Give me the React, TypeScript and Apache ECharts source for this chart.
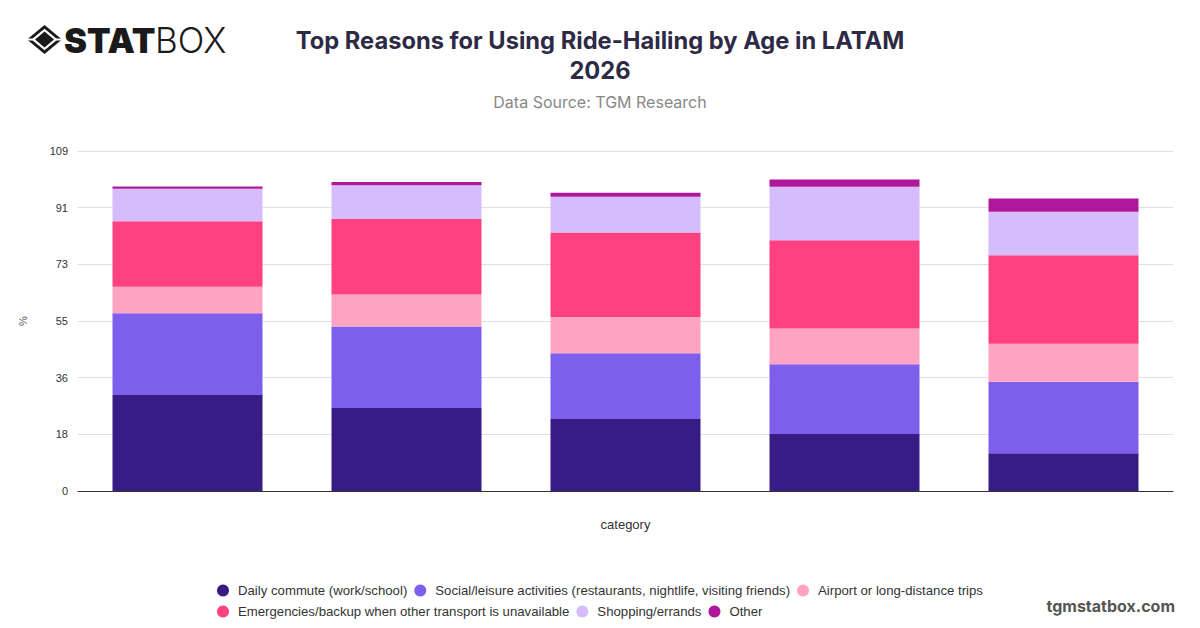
import React, { useEffect, useRef } from "react";
import * as echarts from "echarts";

const categories = ["18-24", "25-34", "35-44", "45-54", "55+"];
const seriesNames = [
  "Daily commute (work/school)",
  "Social/leisure activities (restaurants, nightlife, visiting friends)",
  "Airport or long-distance trips",
  "Emergencies/backup when other transport is unavailable",
  "Shopping/errands",
  "Other",
];
const dailyCommute = [30.8, 26.6, 23.1, 18.3, 12.1];
const socialLeisure = [26.2, 26.1, 21.1, 22.3, 22.9];
const airportTrips = [8.5, 10.3, 11.6, 11.5, 12.2];
const emergencies = [21.0, 24.2, 27.1, 28.3, 28.4];
const shopping = [10.4, 10.8, 11.4, 17.1, 13.9];
const other = [0.7, 1.1, 1.3, 2.4, 4.3];
const seriesValues = [dailyCommute, socialLeisure, airportTrips, emergencies, shopping, other];
const colors = ["#381c85", "#7d5fec", "#ffa3c2", "#ff4081", "#d5bcfb", "#b0189c"];
const yMax = 109;

export default function App() {
  const ref = useRef<HTMLDivElement>(null);
  useEffect(() => {
    if (!ref.current) return;
    const chart = echarts.init(ref.current, null, { renderer: "svg" });
    const font = "'Liberation Sans', Arial, sans-serif";
    const legendBase = {
      orient: "horizontal",
      left: 212,
      icon: "circle",
      itemWidth: 20,
      itemHeight: 12,
      itemGap: 7,
      textStyle: { fontFamily: font, fontSize: 13.2, color: "#333" },
      selectedMode: false,
    };
    chart.setOption({
      animation: false,
      color: colors,
      title: [
        {
          text: "Top Reasons for Using Ride-Hailing by Age in LATAM\n2026",
          left: "center",
          top: 20,
          textStyle: {
            fontFamily: "Inter, 'Liberation Sans', sans-serif",
            fontWeight: "bold",
            fontSize: 23.7,
            lineHeight: 30,
            color: "#2d2a45",
            align: "center",
          },
        },
        {
          text: "Data Source: TGM Research",
          left: "center",
          top: 89,
          textStyle: {
            fontFamily: "Inter, 'Liberation Sans', sans-serif",
            fontWeight: "normal",
            fontSize: 16,
            color: "#888",
          },
        },
      ],
      legend: [
        { ...legendBase, top: 579, data: seriesNames.slice(0, 3) },
        { ...legendBase, top: 600, data: seriesNames.slice(3) },
      ],
      grid: { left: 78, right: 27, top: 151, bottom: 137, containLabel: false },
      xAxis: {
        type: "category",
        data: categories,
        name: "category",
        nameLocation: "middle",
        nameGap: 27,
        nameTextStyle: { fontFamily: font, fontSize: 13, color: "#333" },
        axisLabel: { show: false },
        axisTick: { show: false },
        axisLine: { lineStyle: { color: "#333", width: 1 } },
      },
      yAxis: {
        type: "value",
        min: 0,
        max: yMax,
        interval: yMax / 6,
        name: "%",
        nameLocation: "middle",
        nameGap: 50,
        nameRotate: 90,
        nameTextStyle: { fontFamily: font, fontSize: 11, color: "#555" },
        axisLabel: {
          fontFamily: font,
          fontSize: 11,
          color: "#333",
          margin: 10,
          formatter: (v: number) => String(Math.round(v)),
        },
        axisLine: { show: false },
        axisTick: { show: false },
        splitLine: { lineStyle: { color: "#e0e0e0" } },
      },
      series: seriesNames.map((name, i) => ({
        name,
        type: "bar",
        stack: "total",
        barWidth: 150,
        data: seriesValues[i],
        itemStyle: { color: colors[i] },
      })),
      graphic: [
        { type: "polygon", shape: { points: [[27, 39.5], [44.5, 25], [62, 39.5], [44.5, 54]] }, style: { fill: "#1a1a1a" } },
        { type: "polygon", shape: { points: [[31.5, 39.5], [44.5, 28.7], [57.5, 39.5], [44.5, 50.3]] }, style: { fill: "#fff" } },
        { type: "polygon", shape: { points: [[35, 39.5], [44.5, 31.6], [54, 39.5], [44.5, 47.4]] }, style: { fill: "#1a1a1a" } },
        { type: "line", shape: { x1: 27, y1: 39.5, x2: 35, y2: 39.5 }, style: { stroke: "#fff", lineWidth: 2 } },
        { type: "line", shape: { x1: 54, y1: 39.5, x2: 62, y2: 39.5 }, style: { stroke: "#fff", lineWidth: 2 } },
        {
          type: "text",
          x: 64,
          y: 40,
          style: {
            text: "STAT",
            fontFamily: "Inter, 'DejaVu Sans', sans-serif",
            fontWeight: 900,
            fontSize: 34.5,
            fill: "#1a1a1a",
            verticalAlign: "middle",
            align: "left",
          },
        },
        {
          type: "text",
          x: 155,
          y: 40,
          style: {
            text: "BOX",
            fontFamily: "Inter, 'DejaVu Sans', sans-serif",
            fontWeight: 300,
            fontSize: 35,
            fill: "#1a1a1a",
            verticalAlign: "middle",
            align: "left",
          },
        },
        {
          type: "text",
          x: 1175,
          y: 606,
          style: {
            text: "tgmstatbox.com",
            fontFamily: "Inter, 'Liberation Sans', sans-serif",
            fontWeight: "bold",
            fontSize: 16,
            fill: "#555",
            align: "right",
            verticalAlign: "middle",
          },
        },
      ],
    });
    return () => chart.dispose();
  }, []);
  return <div ref={ref} style={{ width: 1200, height: 628, margin: -8 }} />;
}
